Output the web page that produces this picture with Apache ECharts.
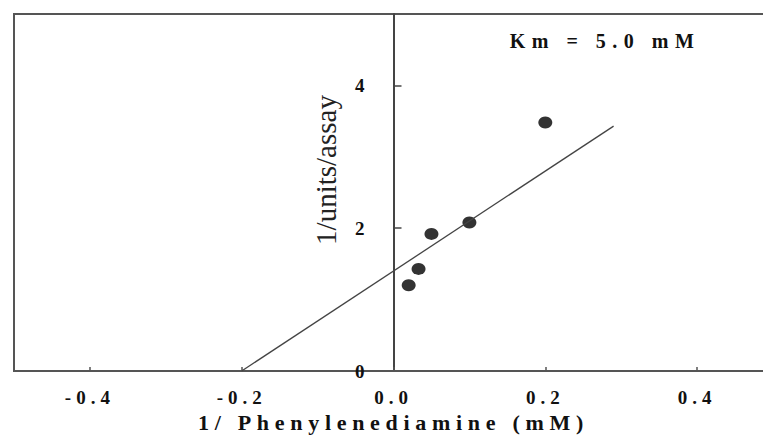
<!DOCTYPE html>
<html>
<head>
<meta charset="utf-8">
<script src="https://cdn.jsdelivr.net/npm/echarts@6/dist/echarts.min.js"></script>
<style>
  html, body { margin: 0; padding: 0; background: #fff; }
  #chart { width: 763px; height: 440px; }
  /* wide tracking on the bold serif labels */
  #chart text[style*="bold"] { letter-spacing: 5px; }
  #chart text[style*="bold"][style*="20px"] { letter-spacing: 6.5px; }
  #chart text[style*="bold"][style*="22px"] { letter-spacing: 5.7px; }
</style>
</head>
<body>
<div id="chart"></div>
<script>
// Lineweaver-Burk data: 1/[S] (mM^-1) against 1/v
const substrateInv = [0.02, 0.033, 0.05, 0.1, 0.2];
const rateInv = [1.2, 1.43, 1.92, 2.08, 3.48];

// fitted straight line, ends of the drawn segment
const fitX = [-0.2, 0.29];
const fitY = [0, 3.43];

// tick positions
const xTicks = [-0.4, -0.2, 0, 0.2, 0.4];
const yTicks = [0, 2, 4];
const yMinorTicks = [2, 4];

const xTitle = '1/ Phenylenediamine (mM)';
const yTitle = '1/units/assay';
const kmLabel = 'Km = 5.0 mM';

const serif = 'Liberation Serif';

// plot box in pixels; the x range runs a little past the right edge
const gridLeft = 14, gridTop = 14, gridWidth = 759, gridHeight = 357;
const xMin = -0.5, xMax = 0.5;
// horizontal distance from the box's left edge to x = 0
const yAxisShift = gridWidth * (0 - xMin) / (xMax - xMin);

const chart = echarts.init(document.getElementById('chart'), null, { renderer: 'svg' });

chart.setOption({
  animation: false,
  backgroundColor: '#fff',
  grid: {
    left: gridLeft, top: gridTop, width: gridWidth, height: gridHeight,
    show: true, borderColor: '#555', borderWidth: 2,
    containLabel: false, outerBoundsMode: 'none'
  },
  xAxis: {
    type: 'value', min: xMin, max: xMax,
    axisLine: { onZero: true, lineStyle: { color: '#555', width: 2 } },
    axisTick: { show: true, inside: true, length: 4, customValues: xTicks,
                lineStyle: { color: '#555', width: 1.5 } },
    axisLabel: {
      customValues: xTicks, margin: 17,
      formatter: v => v.toFixed(1),
      fontFamily: serif, fontWeight: 'bold', fontSize: 19, color: '#111'
    },
    splitLine: { show: false },
    name: xTitle, nameLocation: 'middle', nameGap: 35,
    nameTextStyle: { fontFamily: serif, fontWeight: 'bold', fontSize: 22, color: '#111' }
  },
  yAxis: {
    type: 'value', min: 0, max: 5,
    position: 'left', offset: -yAxisShift,
    axisLine: { onZero: false, lineStyle: { color: '#444', width: 2 } },
    axisTick: { show: true, inside: true, length: 8, customValues: yMinorTicks,
                lineStyle: { color: '#444', width: 1.5 } },
    axisLabel: {
      customValues: yTicks, margin: 24,
      formatter: v => String(v),
      fontFamily: serif, fontWeight: 'bold', fontSize: 19, color: '#111'
    },
    splitLine: { show: false }
  },
  series: [
    {
      type: 'line',
      data: fitX.map((x, i) => [x, fitY[i]]),
      showSymbol: false, silent: true,
      lineStyle: { color: '#444', width: 1.3 }
    },
    {
      type: 'scatter',
      data: substrateInv.map((x, i) => [x, rateInv[i]]),
      symbol: 'circle', symbolSize: [14, 12],
      itemStyle: { color: '#000' }
    }
  ],
  graphic: [
    {
      type: 'text', x: 326, y: 170, rotation: Math.PI / 2,
      style: {
        text: yTitle, fontFamily: serif, fontSize: 29,
        fill: '#222', align: 'center', verticalAlign: 'middle'
      }
    },
    {
      type: 'text', x: 605, y: 41,
      style: {
        text: kmLabel, fontFamily: serif, fontWeight: 'bold', fontSize: 20,
        fill: '#111', align: 'center', verticalAlign: 'middle'
      }
    }
  ]
});
</script>
</body>
</html>
